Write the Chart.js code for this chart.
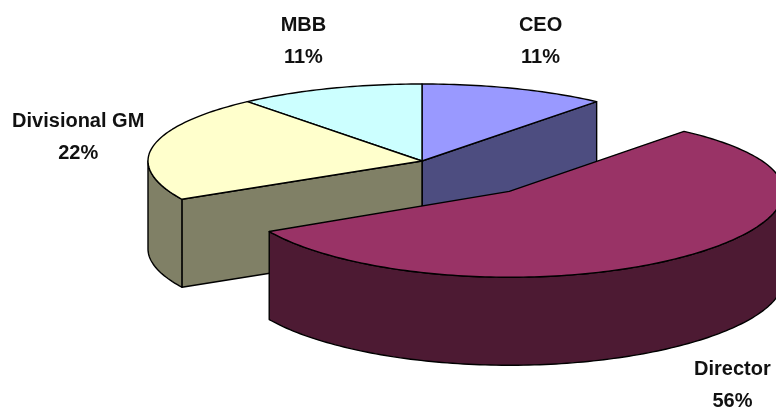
<!DOCTYPE html>
<html>
<head>
<meta charset="utf-8">
<script src="https://cdn.jsdelivr.net/npm/chart.js@4/dist/chart.umd.min.js"></script>
<style>
  html, body { margin: 0; padding: 0; background: #fff; }
  #wrap { width: 776px; height: 412px; }
</style>
</head>
<body>
<div id="wrap"><canvas id="pie" width="776" height="412"></canvas></div>
<script>
const roles = ['CEO', 'Director', 'Divisional GM', 'MBB'];
const shares = [11, 56, 22, 11];

const topColors = ['#9999ff', '#993366', '#ffffcc', '#ccffff'];
const sideColors = ['#4d4d80', '#4d1a33', '#808066', '#668080'];

// tilt of the disc: stretch sideways, squash vertically
const TILT_X = 2.74;
const TILT_Y = 0.77;
const BOW = 5;      // front part sags a little, like a camera close by
const THICK = 88;   // wall height at the front
const FADE = 0.45;  // walls get shorter towards the back

function wallHeight(y, cy) {
    return y >= cy ? THICK : THICK - FADE * (cy - y);
}

function sliceInfo(chart) {
    let meta = chart.getDatasetMeta(0);
    return meta.data.map((arc, i) => {
        let p = arc.getProps(['x', 'y', 'startAngle', 'endAngle', 'outerRadius']);
        let mid = (p.startAngle + p.endAngle) / 2;
        let off = arc.options.offset || 0;
        return {
            i: i,
            x: p.x, y: p.y, r: p.outerRadius,
            a0: p.startAngle, a1: p.endAngle, mid: mid,
            ox: Math.cos(mid) * off, oy: Math.sin(mid) * off
        };
    });
}

// flat pie coordinates -> screen
function makeProj(s0) {
    let cx = s0.x, cy = s0.y, r = s0.r;
    return (x, y) => {
        let d = (y - cy) / r;
        return [cx + (x - cx) * TILT_X, cy + (y - cy) * TILT_Y + (d > 0 ? BOW * d * d : 0)];
    };
}

const pie3d = {
    id: 'pie3d',
    beforeDatasetsDraw(chart) {
        let ctx = chart.ctx;
        let slices = sliceInfo(chart);
        let cy = slices[0].y;
        let proj = makeProj(slices[0]);
        let rim = (s, t) => proj(s.x + s.ox + s.r * Math.cos(t), s.y + s.oy + s.r * Math.sin(t));
        let arcPts = (s, t0, t1) => {
            let n = Math.max(2, Math.ceil((t1 - t0) / 0.02));
            let pts = [];
            for (let k = 0; k <= n; k++) pts.push(rim(s, t0 + (t1 - t0) * k / n));
            return pts;
        };

        // back slices first
        let order = slices.slice().sort((a, b) =>
            (a.oy + Math.sin(a.mid) * a.r * 0.5) - (b.oy + Math.sin(b.mid) * b.r * 0.5));

        ctx.save();
        ctx.lineWidth = 1.4;
        ctx.lineJoin = 'round';
        ctx.strokeStyle = '#000';

        order.forEach(s => {
            let c = proj(s.x + s.ox, s.y + s.oy);

            // flat side walls at the cut edges
            [[s.a0, s.a0 - Math.PI / 2], [s.a1, s.a1 + Math.PI / 2]].forEach(([t, n]) => {
                if (Math.sin(n) <= 0.01) return;
                let e = rim(s, t);
                ctx.beginPath();
                ctx.moveTo(c[0], c[1]);
                ctx.lineTo(e[0], e[1]);
                ctx.lineTo(e[0], e[1] + wallHeight(e[1], cy));
                ctx.lineTo(c[0], c[1] + wallHeight(c[1], cy));
                ctx.closePath();
                ctx.fillStyle = sideColors[s.i];
                ctx.fill();
                ctx.stroke();
            });

            // curved outer wall, front half only
            let t0 = Math.max(s.a0, 0), t1 = Math.min(s.a1, Math.PI);
            if (t1 > t0) {
                let pts = arcPts(s, t0, t1);
                ctx.beginPath();
                ctx.moveTo(pts[0][0], pts[0][1]);
                pts.forEach(p => ctx.lineTo(p[0], p[1]));
                for (let k = pts.length - 1; k >= 0; k--) {
                    ctx.lineTo(pts[k][0], pts[k][1] + wallHeight(pts[k][1], cy));
                }
                ctx.closePath();
                ctx.fillStyle = sideColors[s.i];
                ctx.fill();
                ctx.stroke();
            }

            // top face
            ctx.beginPath();
            ctx.moveTo(c[0], c[1]);
            arcPts(s, s.a0, s.a1).forEach(p => ctx.lineTo(p[0], p[1]));
            ctx.closePath();
            ctx.fillStyle = topColors[s.i];
            ctx.fill();
            ctx.stroke();
        });
        ctx.restore();
        return false;
    },
    afterDraw(chart) {
        let ctx = chart.ctx;
        let slices = sliceInfo(chart);
        let proj = makeProj(slices[0]);
        let total = shares.reduce((a, b) => a + b, 0);

        ctx.save();
        ctx.font = "bold 20px 'Liberation Sans', Arial, sans-serif";
        ctx.fillStyle = '#111';
        ctx.textAlign = 'center';
        ctx.textBaseline = 'middle';
        slices.forEach(s => {
            let q = proj(s.x + s.ox, s.y + s.oy);
            let sn = Math.sin(s.mid);
            let lx = q[0] + Math.cos(s.mid) * (s.r * TILT_X + 76);
            let ly = q[1] + sn * (s.r * TILT_Y + 50) + (sn > 0.3 ? THICK + 8 : 0);
            ctx.fillText(roles[s.i], lx, ly - 16);
            ctx.fillText(Math.round(shares[s.i] / total * 100) + '%', lx, ly + 16);
        });
        ctx.restore();
    }
};

new Chart(document.getElementById('pie'), {
    type: 'pie',
    data: {
        labels: roles,
        datasets: [{
            data: shares,
            backgroundColor: topColors,
            borderColor: '#000',
            offset: [0, 50, 0, 0]
        }]
    },
    options: {
        responsive: false,
        animation: false,
        radius: 100,
        layout: { padding: { left: 68, bottom: 90 } },
        plugins: {
            legend: { display: false },
            tooltip: { enabled: false }
        }
    },
    plugins: [pie3d]
});
</script>
</body>
</html>
